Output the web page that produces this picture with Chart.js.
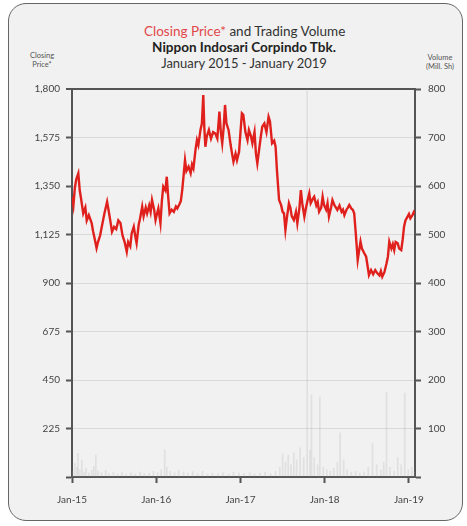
<!DOCTYPE html>
<html>
<head>
<meta charset="utf-8">
<script src="https://cdn.jsdelivr.net/npm/chart.js@4"></script>
<style>
  body { margin: 0; background: #fff; font-family: Lato, "Open Sans", sans-serif; }
  #card {
    position: absolute; left: 8px; top: 3px; width: 455px; height: 518px;
    box-sizing: border-box; border: 1.5px solid #666; border-radius: 18px;
    background: #f1f1f1;
  }
  #wrap { position: absolute; left: 0; top: 0; width: 467px; height: 526px; }
  .ttl { position: absolute; left: 144px; width: 200px; text-align: center; white-space: nowrap; color: #333; }
  .cap { position: absolute; font-size: 7.5px; line-height: 9px; color: #555; text-align: center; }
</style>
</head>
<body>
<div id="card"></div>
<div class="ttl" style="top:23px;font-size:13.5px;"><span style="color:#e2474a">Closing Price*</span> and Trading Volume</div>
<div class="ttl" style="top:39px;font-size:13.5px;font-weight:bold;color:#222">Nippon Indosari Corpindo Tbk.</div>
<div class="ttl" style="top:55px;font-size:13px;">January 2015 - January 2019</div>
<div class="cap" style="left:24px;top:51px;width:36px">Closing<br>Price*</div>
<div class="cap" style="left:420px;top:53px;width:40px">Volume<br>(Mill. Sh)</div>
<div id="wrap"><canvas id="priceChart"></canvas></div>
<script>
// x values are months counted from January 2015
const tickMonths = [0, 12, 24, 36, 48];
const tickLabels = ['Jan-15', 'Jan-16', 'Jan-17', 'Jan-18', 'Jan-19'];

const priceMonths = [0.0,0.2,0.4,0.6,0.9,1.1,1.3,1.6,1.9,2.1,2.4,2.8,3.0,3.2,3.5,3.7,4.0,4.3,4.6,5.0,
  5.2,5.5,5.7,6.0,6.3,6.6,6.9,7.2,7.5,7.8,8.0,8.3,8.5,8.8,9.0,9.2,9.5,9.7,10.0,10.2,
  10.5,10.7,11.0,11.2,11.4,11.7,11.9,12.1,12.3,12.6,12.8,13.0,13.3,13.5,13.7,13.9,14.2,14.5,14.8,15.0,
  15.3,15.5,15.7,15.9,16.1,16.3,16.6,16.9,17.1,17.3,17.6,17.8,18.0,18.3,18.5,18.7,18.85,19.0,19.2,19.5,
  19.8,20.1,20.4,20.7,21.0,21.2,21.4,21.6,21.8,22.0,22.3,22.6,22.8,23.0,23.3,23.5,23.8,24.0,24.2,24.4,
  24.7,25.0,25.2,25.5,25.7,26.0,26.2,26.4,26.7,26.9,27.1,27.4,27.7,28.0,28.2,28.5,28.8,29.0,29.2,29.5,
  29.8,30.0,30.2,30.4,30.6,30.9,31.1,31.3,31.6,31.9,32.1,32.4,32.6,32.8,33.1,33.4,33.6,33.8,34.0,34.3,
  34.5,34.8,35.0,35.2,35.5,35.7,35.9,36.2,36.4,36.6,36.9,37.1,37.4,37.6,37.8,38.1,38.4,38.6,38.8,39.1,
  39.3,39.5,39.8,40.0,40.2,40.4,40.7,40.9,41.1,41.3,41.6,41.9,42.1,42.3,42.6,42.9,43.2,43.5,43.8,44.0,
  44.2,44.5,44.8,45.0,45.2,45.5,45.7,45.9,46.1,46.4,46.6,46.9,47.1,47.3,47.5,47.8,48.0,48.2,48.5,48.7,48.85];
const priceValues = [1300,1260,1340,1380,1409,1330,1290,1223,1250,1190,1215,1178,1140,1110,1062,1090,1120,1170,1220,1277,
  1240,1180,1138,1160,1150,1190,1178,1120,1090,1045,1090,1070,1130,1161,1120,1085,1170,1200,1254,1210,
  1250,1223,1260,1230,1285,1240,1192,1220,1246,1177,1280,1347,1330,1393,1300,1223,1240,1230,1255,1246,
  1265,1280,1331,1400,1470,1420,1440,1410,1450,1432,1520,1563,1540,1610,1640,1772,1620,1532,1580,1610,
  1570,1600,1594,1570,1695,1600,1548,1620,1726,1640,1610,1540,1500,1463,1500,1470,1509,1600,1687,1680,
  1600,1563,1610,1580,1548,1600,1500,1455,1530,1580,1625,1640,1600,1671,1650,1548,1560,1532,1420,1285,
  1260,1230,1223,1146,1200,1270,1250,1210,1192,1230,1177,1250,1331,1270,1208,1260,1290,1316,1270,1290,
  1300,1260,1275,1231,1250,1300,1262,1240,1270,1208,1250,1285,1260,1250,1239,1260,1230,1240,1215,1240,
  1250,1262,1245,1240,1223,1140,1007,1050,1092,1060,1040,1022,980,937,960,940,960,945,935,955,
  929,950,990,1022,1092,1060,1080,1053,1090,1084,1060,1053,1100,1161,1190,1208,1220,1200,1215,1230,1223];

const volMonths = [0.1,0.4,0.7,0.85,1.1,1.4,1.7,2.0,2.4,2.8,3.1,3.4,3.7,4.2,4.8,5.3,5.9,6.5,7.1,7.7,
  8.4,9.0,9.7,10.3,11.0,11.6,12.2,12.7,13.2,13.5,14.0,14.6,15.2,15.9,16.5,17.2,17.9,18.6,19.3,20.0,
  20.8,21.5,22.3,23.0,23.8,24.5,25.3,26.0,26.8,27.5,28.3,29.0,29.6,30.0,30.4,30.8,31.2,31.6,32.0,32.5,
  33.0,33.5,33.9,34.1,34.5,35.0,35.3,35.8,36.3,36.8,37.3,37.8,38.2,38.7,39.2,39.8,40.4,41.0,41.6,42.2,
  42.8,43.4,44.0,44.4,44.8,45.3,45.9,46.4,46.9,47.4,47.9,48.4,48.8];
const volValues = [12,28,20,49,15,35,10,18,8,14,22,45,12,9,14,7,10,6,9,5,
  8,6,10,7,8,12,9,15,56,20,12,9,14,10,8,11,7,12,6,8,
  7,9,6,10,8,7,9,6,8,10,7,12,20,48,30,45,25,50,35,60,
  40,1000,55,169,40,25,165,20,15,12,18,30,91,35,15,10,12,8,10,20,
  70,25,15,30,175,20,12,40,25,173,15,20,10];

const pricePoints = priceMonths.map((m, i) => ({ x: m, y: priceValues[i] }));
const volPoints = volMonths.map((m, i) => ({ x: m, y: volValues[i] }));

const axisColor = '#555';
const tickFont = { family: 'Lato', size: 10 };

new Chart(document.getElementById('priceChart'), {
  type: 'bar',
  data: {
    datasets: [
      {
        type: 'line',
        label: 'Closing Price',
        data: pricePoints,
        yAxisID: 'y',
        borderColor: '#e0201c',
        borderWidth: 2.4,
        pointRadius: 0,
        tension: 0,
        order: 0
      },
      {
        type: 'bar',
        label: 'Volume',
        data: volPoints,
        yAxisID: 'y1',
        backgroundColor: 'rgba(165,165,165,0.22)',
        barThickness: 1,
        grouped: false,
        order: 1
      }
    ]
  },
  options: {
    responsive: true,
    maintainAspectRatio: false,
    animation: false,
    layout: { padding: { top: 89, left: 0, right: 0, bottom: 0 } },
    plugins: { legend: { display: false }, tooltip: { enabled: false } },
    scales: {
      x: {
        type: 'linear',
        offset: false,
        min: 0,
        max: 48.86,
        afterBuildTicks: axis => { axis.ticks = tickMonths.map(v => ({ value: v })); },
        afterFit: axis => { axis.height = 49; },
        ticks: {
          autoSkip: false,
          maxRotation: 0,
          padding: 11,
          color: '#444',
          font: tickFont,
          callback: v => tickLabels[tickMonths.indexOf(v)]
        },
        grid: { offset: false, drawOnChartArea: false, tickLength: 6, tickColor: axisColor, tickWidth: 2 },
        border: { color: axisColor, width: 2 }
      },
      y: {
        position: 'left',
        min: 0,
        max: 1800,
        afterFit: axis => { axis.width = 72; },
        ticks: {
          stepSize: 225,
          padding: 6,
          color: '#444',
          font: tickFont,
          callback: v => v === 0 ? '' : v.toLocaleString('en-US')
        },
        grid: {
          color: c => c.tick && c.tick.value === 1800 ? axisColor : '#d9d9d9',
          lineWidth: c => c.tick && c.tick.value === 1800 ? 2 : 1,
          tickLength: 6,
          tickColor: axisColor,
          tickWidth: 2
        },
        border: { color: axisColor, width: 2 }
      },
      y1: {
        position: 'right',
        min: 0,
        max: 800,
        afterFit: axis => { axis.width = 52; },
        ticks: {
          stepSize: 100,
          padding: 7,
          color: '#444',
          font: tickFont,
          callback: v => v === 0 ? '' : v
        },
        grid: { drawOnChartArea: false, tickLength: 6, tickColor: axisColor, tickWidth: 2 },
        border: { color: axisColor, width: 2 }
      }
    }
  }
});
</script>
</body>
</html>
